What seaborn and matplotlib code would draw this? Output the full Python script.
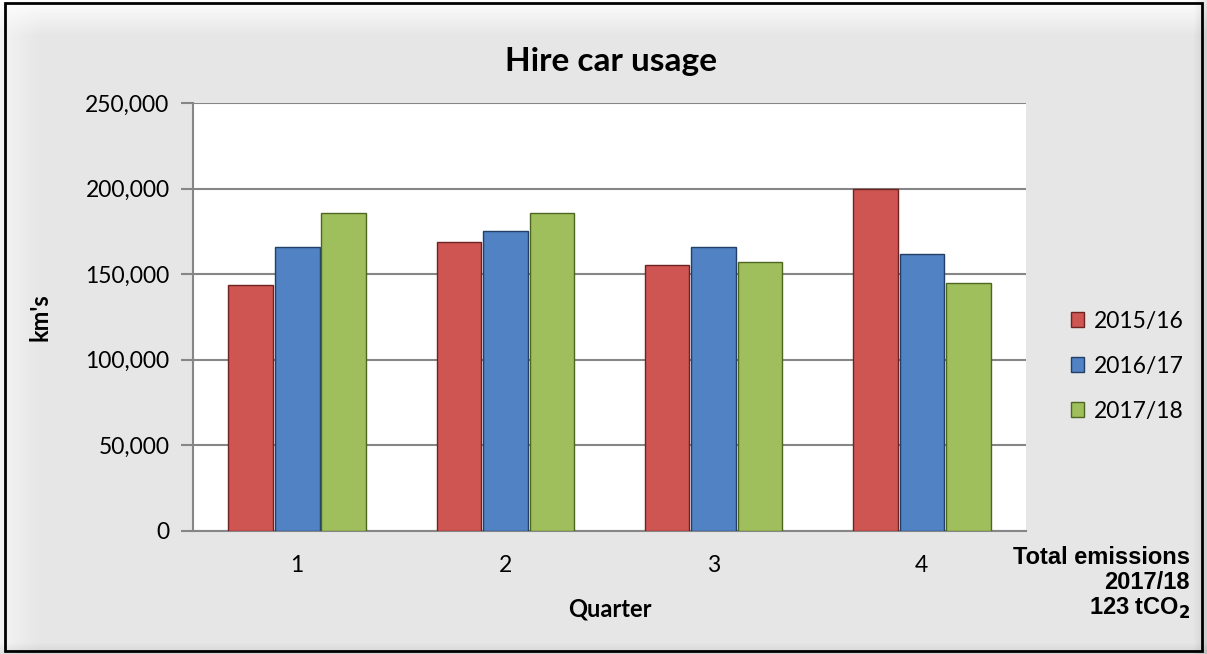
import numpy as np
import pandas as pd
import matplotlib.pyplot as plt
import matplotlib.patches as mpatches
import seaborn as sns
from matplotlib.ticker import FuncFormatter

# Datos
quarters = ['1', '2', '3', '4']
years = ['2015/16', '2016/17', '2017/18']
km_2015 = [143500, 169000, 155500, 199500]
km_2016 = [166000, 175000, 166000, 162000]
km_2017 = [186000, 186000, 157000, 145000]

colores = ['#CF5553', '#5182C4', '#9EBF5C']
bordes = ['#6E2322', '#223F66', '#4F6623']

df = pd.DataFrame({
    'Quarter': quarters * 3,
    'Year': [y for y in years for _ in quarters],
    'km': km_2015 + km_2016 + km_2017,
})

sns.set_style('white')
plt.rcParams['font.family'] = ['Lato', 'DejaVu Sans']
plt.rcParams['text.color'] = 'black'
plt.rcParams['axes.labelcolor'] = 'black'
plt.rcParams['xtick.color'] = 'black'
plt.rcParams['ytick.color'] = 'black'

fig = plt.figure(figsize=(12.07, 6.54), dpi=100)
fig.patch.set_facecolor('#E6E6E6')

# fondo con bisel (gradiente simple)
h, w = 654, 1207
fondo = np.full((h, w), 0.90)
yy = np.arange(h)[:, None]
xx = np.arange(w)[None, :]
top = np.clip(1 - yy / 35.0, 0, 1)
left = np.clip(1 - xx / 40.0, 0, 1)
right = np.clip(1 - (w - xx) / 14.0, 0, 1)
bottom = np.clip(1 - (h - yy) / 12.0, 0, 1)
fondo = fondo + 0.09 * top + 0.05 * left * (1 - top) - 0.10 * right - 0.08 * bottom
bg = fig.add_axes([0, 0, 1, 1], zorder=-10)
bg.imshow(np.clip(fondo, 0, 1), cmap='gray', vmin=0, vmax=1, aspect='auto')
bg.axis('off')

# marco negro exterior
fig.patches.append(mpatches.Rectangle((0.004, 0.004), 0.992, 0.992, transform=fig.transFigure,
                                      fill=False, edgecolor='black', linewidth=2, zorder=5))

ax = fig.add_axes([0.16, 0.1881, 0.690, 0.6544])
ax.set_facecolor('white')

sns.barplot(data=df, x='Quarter', y='km', hue='Year', order=quarters, hue_order=years,
            palette=colores, saturation=1, width=0.67, gap=0.04, ax=ax, legend=False, zorder=3)

for i, cont in enumerate(ax.containers):
    for bar in cont:
        bar.set_edgecolor(bordes[i])
        bar.set_linewidth(1.0)

ax.set_ylim(0, 250000)
ax.set_yticks(range(0, 250001, 50000))
ax.yaxis.set_major_formatter(FuncFormatter(lambda v, p: f'{int(v):,}'))
ax.grid(axis='y', color='#868686', linewidth=1.5, zorder=0)
ax.set_axisbelow(True)

for s in ['top', 'right']:
    ax.spines[s].set_visible(False)
ax.spines['left'].set_color('#868686')
ax.spines['left'].set_linewidth(1.5)
ax.spines['bottom'].set_color('#868686')
ax.spines['bottom'].set_linewidth(1.5)

ax.tick_params(axis='y', left=True, length=9, width=1.5, color='#868686', labelcolor='black',
               labelsize=16.5, pad=8)
ax.tick_params(axis='x', bottom=False, labelcolor='black', labelsize=16.5, pad=14)

ax.set_xlabel('Quarter', fontsize=17, fontweight='bold', labelpad=15)
ax.set_ylabel("km's", fontsize=17, fontweight='bold', labelpad=24)

fig.text(0.506, 0.906, 'Hire car usage', ha='center', va='center', fontsize=24, fontweight='bold')

handles = [mpatches.Patch(facecolor=c, edgecolor=b, label=y) for c, b, y in zip(colores, bordes, years)]
fig.legend(handles=handles, loc='center left', bbox_to_anchor=(0.87, 0.44), frameon=False,
           fontsize=16.5, handlelength=0.6, handleheight=0.6, handletextpad=0.4, labelspacing=1.05)

fig.text(0.986, 0.108, 'Total emissions\n2017/18\n123 tCO$_\\mathbf{2}$', ha='right', va='center',
         fontsize=17, fontweight='bold', family=['Liberation Sans', 'DejaVu Sans'], linespacing=1.12)

plt.savefig('out.png', dpi=100, facecolor=fig.get_facecolor())
